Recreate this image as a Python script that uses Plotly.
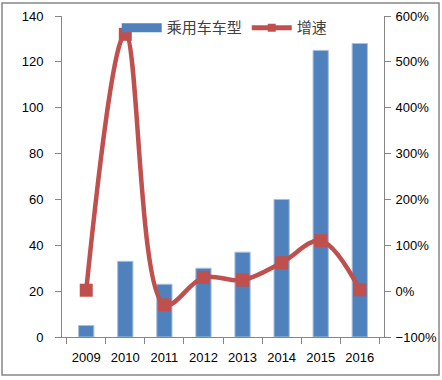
import plotly.graph_objects as go

years = ["2009", "2010", "2011", "2012", "2013", "2014", "2015", "2016"]
models = [5, 33, 23, 30, 37, 60, 125, 128]
growth = [2, 560, -30, 30, 24, 62, 110, 3]  # percent

FONT = "Liberation Sans"
BLUE = "#4F81BD"
RED = "#C0504D"
fig = go.Figure()
fig.add_trace(go.Bar(x=years, y=models, name="乘用车车型", showlegend=False,
                     marker=dict(color=BLUE, line=dict(color="#A7BFDE", width=1)),
                     yaxis="y"))
fig.add_trace(go.Scatter(x=years, y=growth, name="增速", mode="lines+markers", showlegend=False,
                         line=dict(color=RED, width=4.5, shape="spline", smoothing=1),
                         marker=dict(symbol="square", size=13, color=RED),
                         yaxis="y2"))
# legend-only entries mimicking the original swatches
fig.add_trace(go.Scatter(x=[None], y=[None], name="乘用车车型", mode="lines",
                         line=dict(color=BLUE, width=9), yaxis="y"))
fig.add_trace(go.Scatter(x=[None], y=[None], name="增速", mode="lines+markers",
                         line=dict(color=RED, width=5),
                         marker=dict(symbol="square", size=8, color=RED), yaxis="y2"))

axis_common = dict(showline=True, linecolor="#868686", linewidth=1, ticks="outside",
                   ticklen=6, tickcolor="#868686", showgrid=False, zeroline=False,
                   automargin=False,
                   tickfont=dict(family=FONT, size=13, color="black"))

fig.update_layout(
    width=442, height=380,
    margin=dict(l=62, r=58, t=15, b=43),
    plot_bgcolor="white", paper_bgcolor="white",
    bargap=0.61,
    showlegend=True,
    legend=dict(orientation="h", x=0.17, y=0.96, xanchor="left", yanchor="middle",
                font=dict(family="Noto Sans CJK SC", size=15, color="#404040"),
                bgcolor="rgba(0,0,0,0)", itemwidth=40, tracegroupgap=0),
    xaxis=dict(**axis_common, tickson="boundaries", type="category", ticklabelstandoff=8),
    yaxis=dict(**axis_common, range=[0, 140], dtick=20, ticklabelstandoff=9),
    yaxis2=dict(**axis_common, range=[-100, 600], dtick=100, overlaying="y", side="right",
                ticksuffix="%", ticklabelstandoff=2),
    shapes=[dict(type="rect", xref="paper", yref="paper",
                 x0=(2 - 62) / 322, x1=(439 - 62) / 322,
                 y0=(337 - 375) / 322, y1=(337 - 2) / 322,
                 line=dict(color="#868686", width=1.5))],
)
fig.write_html("out.html", config={"displayModeBar": False},
               post_script="document.body.style.margin='0';")
